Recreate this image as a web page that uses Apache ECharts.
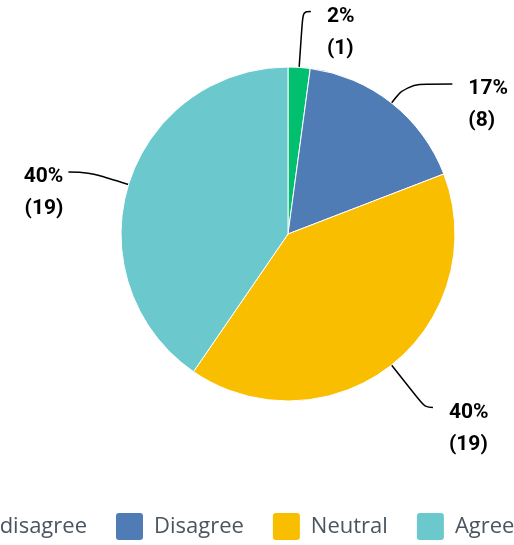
<!DOCTYPE html>
<html><head><meta charset="utf-8">
<script src="https://cdn.jsdelivr.net/npm/echarts@6/dist/echarts.min.js"></script>
<style>html,body{margin:0;padding:0;background:#fff;}#c{width:514px;height:545px;}</style>
</head><body><div id="c"></div>
<script>
var categories = ['Strongly disagree', 'Disagree', 'Neutral', 'Agree'];
var counts = [1, 8, 19, 19];
var colors = ['#00bf6f', '#507cb6', '#f9be00', '#6bc8cd'];
// per-slice label line lengths [length, length2]
var lineLens = [[56, 8], [24, 46], [54, 8], [42, 20]];

var legendFont = '22px "Open Sans"';
var ctx = document.createElement('canvas').getContext('2d');
ctx.font = legendFont;
var firstW = ctx.measureText(categories[0]).width;
var iconW = 29, textGap = 10, itemGap = 27;
var legendLeft = 113 - itemGap - firstW - textGap - iconW;

var data = categories.map(function (n, i) {
  var right = i < 3;
  return {
    name: n, value: counts[i],
    itemStyle: { color: colors[i] },
    labelLine: { length: lineLens[i][0], length2: lineLens[i][1] },
    label: { distanceToLabelLine: right ? 16 : 5 }
  };
});

var chart = echarts.init(document.getElementById('c'), null, { renderer: 'canvas' });
chart.setOption({
  animation: false,
  legend: {
    left: legendLeft, top: 511, width: 1400, padding: 0,
    orient: 'horizontal',
    itemWidth: iconW, itemHeight: 29, itemGap: itemGap,
    icon: 'path://M4,0 H25 A4,4 0 0 1 29,4 V25 A4,4 0 0 1 25,29 H4 A4,4 0 0 1 0,25 V4 A4,4 0 0 1 4,0 Z',
    textStyle: { fontFamily: 'Open Sans', fontSize: 22, color: '#4a5560', padding: [0, 0, 0, 5] },
    data: categories
  },
  series: [{
    type: 'pie',
    center: [288, 234],
    radius: 167,
    startAngle: 90,
    clockwise: true,
    avoidLabelOverlap: false,
    itemStyle: { borderColor: '#fff', borderWidth: 1 },
    label: {
      show: true, position: 'outside',
      formatter: function (p) { return '{s| }\n{a|' + Math.round(p.percent) + '%}\n{a|(' + p.value + ')}'; },
      rich: {
        s: { fontSize: 10, lineHeight: 42 },
        a: { fontFamily: 'Roboto', fontWeight: 'bold', fontSize: 21, color: '#000', lineHeight: 32 }
      }
    },
    labelLine: { show: true, smooth: 0.4, lineStyle: { color: '#000', width: 1.5 } },
    data: data
  }]
});
</script></body></html>
